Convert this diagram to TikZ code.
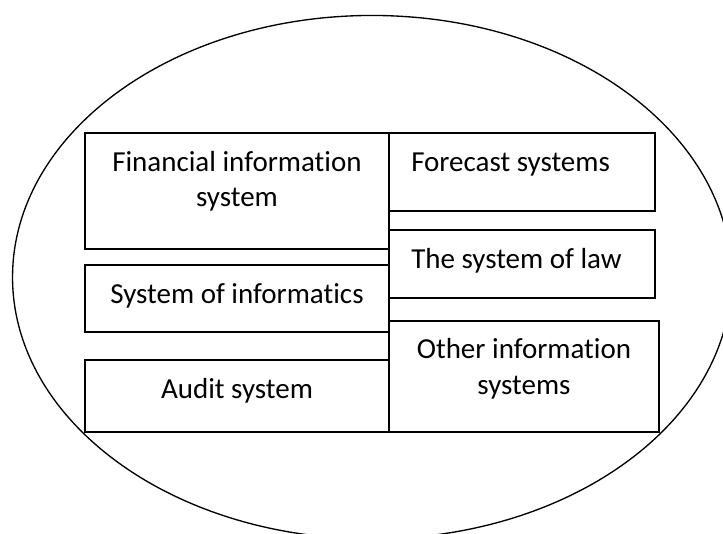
\documentclass[tikz,border=0pt]{standalone}
\usepackage{fontspec}
\setmainfont[Ligatures={NoCommon,NoRare,NoContextual}]{Carlito}
\begin{document}
\begin{tikzpicture}[x=0.75pt,y=-0.75pt,
  box/.style={draw, line width=1pt, rectangle, inner sep=0pt, outer sep=0pt, anchor=north west},
  lbl/.style={font=\fontsize{21.75}{27.75}\selectfont, inner sep=0pt, anchor=base},
  lblw/.style={lbl, anchor=base west}]
\useasboundingbox (0,0) rectangle (723,534);
\begin{scope}
  \clip (0,0) rectangle (723,534);
  \draw[line width=1pt] (372,277.2) ellipse [x radius=269.6pt, y radius=196.3pt];
\end{scope}
% left column
\node[box, minimum width=228pt, minimum height=87pt] (fin) at (85,133) {};
\node[box, minimum width=228pt, minimum height=50.25pt] (inf) at (85,265) {};
\node[box, minimum width=228pt, minimum height=54pt] (aud) at (85,360) {};
% right column
\node[box, minimum width=199.5pt, minimum height=58.5pt] (for) at (389,133) {};
\node[box, minimum width=199.5pt, minimum height=51pt] (law) at (389,230) {};
\node[box, minimum width=202.5pt, minimum height=83.25pt] (oth) at (389,321) {};
% texts
\node[lbl] (fint1) at (237,172) {Financial information};
\node[lbl] (fint2) at (237,207) {system};
\node[lbl] (inft) at (237,303) {System of informatics};
\node[lbl] (audt) at (237,398) {Audit system};
\node[lblw] (fort) at (411,172) {Forecast systems};
\node[lblw] (lawt) at (411,268) {The system of law};
\node[lbl] (otht1) at (524,358) {Other information};
\node[lbl] (otht2) at (524,394) {systems};
\end{tikzpicture}
\end{document}
